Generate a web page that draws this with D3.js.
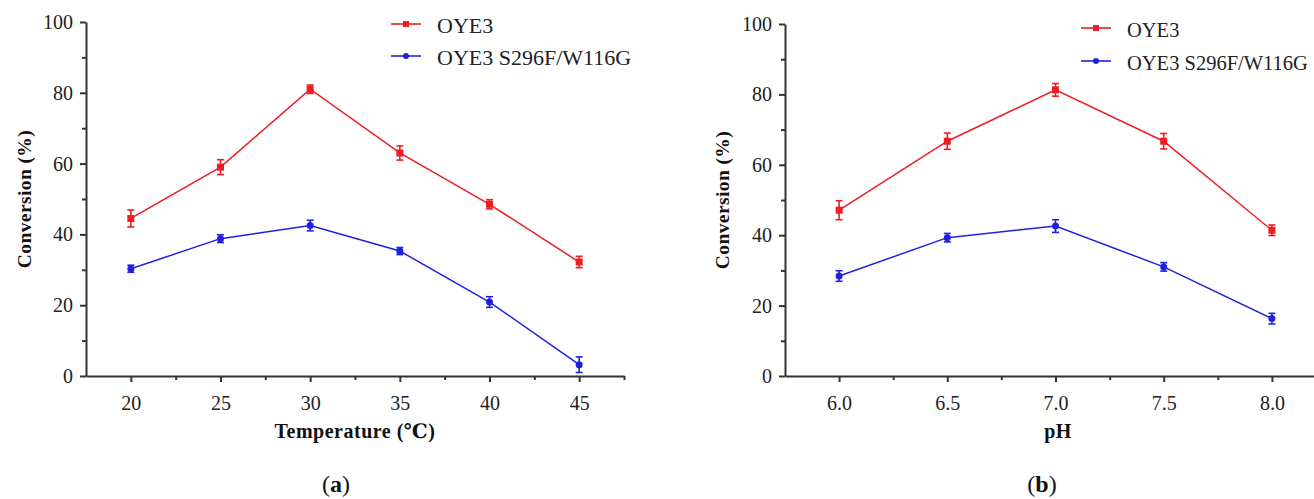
<!DOCTYPE html>
<html>
<head>
<meta charset="utf-8">
<script src="https://cdn.jsdelivr.net/npm/d3@7"></script>
<style>
  body { margin: 0; background: #fff; }
  svg { display: block; }
</style>
</head>
<body>
<div id="chart"></div>
<script>
// data
const seriesNames = ['OYE3', 'OYE3 S296F/W116G'];

const tempX = [20, 25, 30, 35, 40, 45];
const tempOYE3 = [44.5, 59.0, 81.0, 63.0, 48.5, 32.2];
const tempOYE3Err = [2.4, 2.1, 1.2, 2.0, 1.3, 1.6];
const tempMutant = [30.3, 38.8, 42.5, 35.3, 20.9, 3.2];
const tempMutantErr = [1.0, 1.1, 1.5, 1.0, 1.5, 2.2];

const phX = [6.0, 6.5, 7.0, 7.5, 8.0];
const phOYE3 = [47.1, 66.7, 81.3, 66.7, 41.4];
const phOYE3Err = [2.7, 2.3, 1.8, 2.2, 1.5];
const phMutant = [28.4, 39.3, 42.6, 31.0, 16.3];
const phMutantErr = [1.5, 1.2, 1.8, 1.2, 1.5];

const yTicks = [0, 20, 40, 60, 80, 100];
const yMinor = [10, 30, 50, 70, 90];
const tempTicks = [20, 25, 30, 35, 40, 45];
const tempMinor = [22.5, 27.5, 32.5, 37.5, 42.5, 47.5];
const phTicks = [6.0, 6.5, 7.0, 7.5, 8.0];
const phMinor = [6.25, 6.75, 7.25, 7.75];

const red = '#ee1c23';
const blue = '#1e22e0';
const axisColor = '#333';
const serif = '"Liberation Serif", "DejaVu Serif", serif';

const width = 1314, height = 499;

const svg = d3.select('#chart').append('svg')
    .attr('width', width)
    .attr('height', height);

function panel(opts) {
    const g = svg.append('g');

    const x = d3.scaleLinear().domain(opts.xDomain).range(opts.xRange);
    const y = d3.scaleLinear().domain([0, 100]).range(opts.yRange);
    const y0 = opts.yRange[0];
    const x0 = opts.xRange[0];

    // y axis
    g.append('g')
        .attr('transform', `translate(${x0},0)`)
        .call(d3.axisLeft(y).tickValues(yTicks).tickSize(6).tickSizeOuter(0).tickPadding(7));
    g.append('g')
        .attr('transform', `translate(${x0},0)`)
        .call(d3.axisLeft(y).tickValues(yMinor).tickSize(4).tickSizeOuter(0).tickFormat(''))
        .select('.domain').remove();

    // x axis
    g.append('g')
        .attr('transform', `translate(0,${y0})`)
        .call(d3.axisBottom(x).tickValues(opts.ticks).tickSize(6).tickSizeOuter(0)
            .tickPadding(14).tickFormat(opts.fmt));
    g.append('g')
        .attr('transform', `translate(0,${y0})`)
        .call(d3.axisBottom(x).tickValues(opts.minor).tickSize(4).tickSizeOuter(0).tickFormat(''))
        .select('.domain').remove();

    g.selectAll('.domain, .tick line')
        .attr('stroke', axisColor)
        .attr('stroke-width', 2);
    g.selectAll('.tick text')
        .attr('fill', '#222')
        .style('font-family', serif)
        .style('font-size', '20px');

    // axis titles
    g.append('text')
        .attr('transform', `translate(${opts.yLabelX},${(y(0) + y(100)) / 2}) rotate(-90)`)
        .attr('text-anchor', 'middle')
        .style('font-family', serif)
        .style('font-size', '19.5px')
        .style('font-weight', 'bold')
        .style('letter-spacing', '0.4px')
        .attr('fill', '#111')
        .text('Conversion (%)');

    g.append('text')
        .attr('x', opts.xLabelX)
        .attr('y', 438)
        .attr('text-anchor', 'middle')
        .style('font-family', serif)
        .style('font-size', '20px')
        .style('font-weight', 'bold')
        .style('letter-spacing', '0.5px')
        .attr('fill', '#111')
        .text(opts.xLabel);

    // panel letter
    const letter = g.append('text')
        .attr('x', opts.letterX)
        .attr('y', 492)
        .attr('text-anchor', 'middle')
        .style('font-family', serif)
        .style('font-size', '24px')
        .attr('fill', '#111');
    letter.append('tspan').text('(');
    letter.append('tspan').style('font-weight', 'bold').text(opts.letter);
    letter.append('tspan').text(')');

    const line = d3.line().x(d => x(d.x)).y(d => y(d.v));

    opts.series.forEach((s, i) => {
        const pts = opts.xs.map((xv, j) => ({ x: xv, v: s.values[j], e: s.errs[j] }));
        const sg = g.append('g');

        sg.append('path')
            .datum(pts)
            .attr('fill', 'none')
            .attr('stroke', s.color)
            .attr('stroke-width', 1.5)
            .attr('d', line);

        // error bars
        const eb = sg.selectAll('.err').data(pts).join('g');
        eb.append('line')
            .attr('x1', d => x(d.x)).attr('x2', d => x(d.x))
            .attr('y1', d => y(d.v - d.e)).attr('y2', d => y(d.v + d.e))
            .attr('stroke', s.color).attr('stroke-width', 1.6);
        eb.append('line')
            .attr('x1', d => x(d.x) - 3.5).attr('x2', d => x(d.x) + 3.5)
            .attr('y1', d => y(d.v + d.e)).attr('y2', d => y(d.v + d.e))
            .attr('stroke', s.color).attr('stroke-width', 1.6);
        eb.append('line')
            .attr('x1', d => x(d.x) - 3.5).attr('x2', d => x(d.x) + 3.5)
            .attr('y1', d => y(d.v - d.e)).attr('y2', d => y(d.v - d.e))
            .attr('stroke', s.color).attr('stroke-width', 1.6);

        // markers
        if (s.shape === 'square') {
            sg.selectAll('.mk').data(pts).join('rect')
                .attr('x', d => x(d.x) - 3.5).attr('y', d => y(d.v) - 3.5)
                .attr('width', 7).attr('height', 7)
                .attr('fill', s.color);
        } else {
            sg.selectAll('.mk').data(pts).join('circle')
                .attr('cx', d => x(d.x)).attr('cy', d => y(d.v))
                .attr('r', 3.5)
                .attr('fill', s.color);
        }

        // legend entry
        const ly = opts.legendY[i];
        const lg = g.append('g').attr('transform', `translate(${opts.legendX},${ly})`);
        lg.append('line')
            .attr('x1', 0).attr('x2', 30)
            .attr('stroke', s.color).attr('stroke-width', 1.6);
        if (s.shape === 'square') {
            lg.append('rect').attr('x', 12).attr('y', -3).attr('width', 6).attr('height', 6).attr('fill', s.color);
        } else {
            lg.append('circle').attr('cx', 15).attr('r', 3).attr('fill', s.color);
        }
        lg.append('text')
            .attr('x', 46)
            .attr('y', 9)
            .style('font-family', serif)
            .style('font-size', opts.legendFont)
            .attr('fill', '#222')
            .text(seriesNames[i]);
    });
}

panel({
    xDomain: [17.5, 47.5],
    xRange: [86, 624],
    yRange: [376, 22],
    ticks: tempTicks,
    minor: tempMinor,
    fmt: d3.format('d'),
    xs: tempX,
    xLabel: 'Temperature (\u2103)',
    xLabelX: 355,
    yLabelX: 31,
    letter: 'a',
    letterX: 336,
    legendX: 391,
    legendY: [24, 56],
    legendFont: '22px',
    series: [
        { values: tempOYE3, errs: tempOYE3Err, color: red, shape: 'square' },
        { values: tempMutant, errs: tempMutantErr, color: blue, shape: 'circle' }
    ]
});

panel({
    xDomain: [5.75, 8.25],
    xRange: [785, 1326],
    yRange: [376, 24],
    ticks: phTicks,
    minor: phMinor,
    fmt: d3.format('.1f'),
    xs: phX,
    xLabel: 'pH',
    xLabelX: 1058,
    yLabelX: 729,
    letter: 'b',
    letterX: 1042,
    legendX: 1081,
    legendY: [28, 61],
    legendFont: '20.5px',
    series: [
        { values: phOYE3, errs: phOYE3Err, color: red, shape: 'square' },
        { values: phMutant, errs: phMutantErr, color: blue, shape: 'circle' }
    ]
});
</script>
</body>
</html>
